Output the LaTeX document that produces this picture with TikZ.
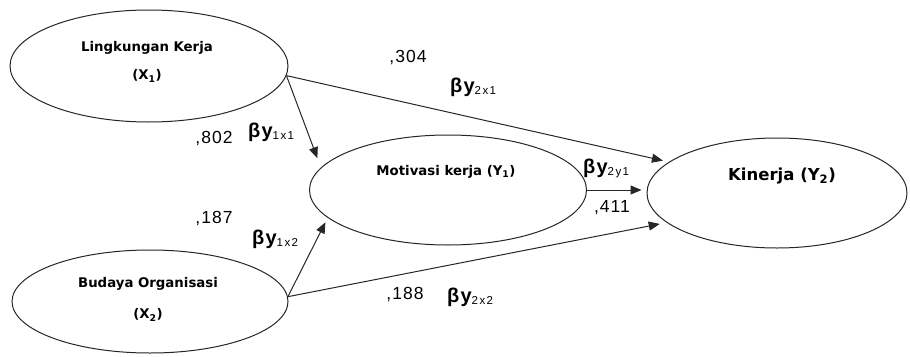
\documentclass[tikz,border=0pt]{standalone}
\usepackage{fontspec}
\setmainfont{Liberation Sans}
\newfontfamily\labelfont{DejaVu Sans}
\usetikzlibrary{shapes.geometric,arrows.meta}

% path coefficient label: bold beta-y with a small, loosely spaced subscript
\newcommand\lowsub[1]{\raisebox{-2pt}{\fontsize{11.5}{11.5}\selectfont\mdseries\addfontfeatures{LetterSpace=12}#1}}
\newcommand\bcoef[1]{{\fontsize{20}{20}\selectfont\bfseries βy}\lowsub{#1}}

\begin{document}
\begin{tikzpicture}[x=1pt,y=-1pt,
  latent/.style={ellipse,draw=black!85,line width=1pt,inner sep=0pt,fill=white},
  vname/.style={font=\labelfont\bfseries\fontsize{13.3}{13.3}\selectfont,inner sep=0pt},
  coef/.style={font=\fontsize{17.5}{17.5}\selectfont\addfontfeatures{LetterSpace=6},inner sep=0pt},
  link/.style={draw=black!85,line width=1pt,-{Triangle[length=11pt,width=9pt]}}
]
\useasboundingbox (0,0) rectangle (910,356);

% latent variables
\node[latent,minimum width=278,minimum height=112] (lk) at (149,66) {};
\node[latent,minimum width=276,minimum height=103] (bo) at (150,301.5) {};
\node[latent,minimum width=277,minimum height=110] (mk) at (448,190) {};
\node[latent,minimum width=260,minimum height=110] (kn) at (777,193) {};

% their names
\node[vname] (lkt1) at (147,48) {Lingkungan Kerja};
\node[vname] (lkt2) at (147,76) {(X\textsubscript{1})};
\node[vname] (bot1) at (148,284) {Budaya Organisasi};
\node[vname] (bot2) at (148,315) {(X\textsubscript{2})};
\node[vname] (mkt) at (446,172) {Motivasi kerja (Y\textsubscript{1})};
\node[vname,font=\labelfont\bfseries\fontsize{16.5}{16.5}\selectfont] (knt) at (782,176) {Kinerja (Y\textsubscript{2})};

% structural paths
\draw[link,shorten >=10pt] (lk.-4) -- (mk.170);
\draw[link,shorten >=6pt] (lk.-4) -- (kn.164.7);
\draw[link,shorten >=5pt] (mk.east) -- (mk.east -| kn.west);
\draw[link,shorten >=5pt] (bo.2) -- (mk.193.5);
\draw[link,shorten >=7pt] (bo.2) -- (kn.195.8);

% coefficients
\node[coef] (c304) at (408,58) {,304};
\node[coef,anchor=west] (b2x1) at (450,87) {\bcoef{2x1}};
\node[coef] (c802) at (214,139) {,802};
\node[coef,anchor=west] (b1x1) at (248,132) {\bcoef{1x1}};
\node[coef] (c187) at (214,219) {,187};
\node[coef,anchor=west] (b1x2) at (252,239) {\bcoef{1x2}};
\node[coef,anchor=west] (b2y1) at (583,168) {\bcoef{2y1}};
\node[coef] (c411) at (612,208) {,411};
\node[coef] (c188) at (405,295) {,188};
\node[coef,anchor=west] (b2x2) at (447,297) {\bcoef{2x2}};
\end{tikzpicture}
\end{document}
